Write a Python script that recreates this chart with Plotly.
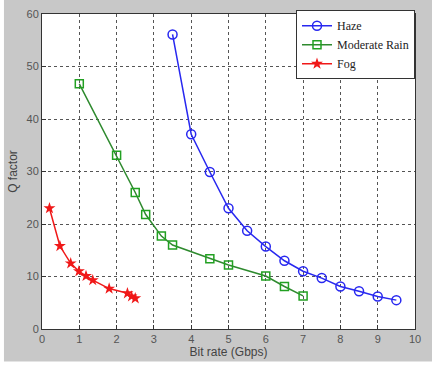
import plotly.graph_objects as go

haze_x = [3.5, 4.0, 4.5, 5.0, 5.5, 6.0, 6.5, 7.0, 7.5, 8.0, 8.5, 9.0, 9.5]
haze_y = [56.1, 37.1, 29.9, 23.0, 18.7, 15.7, 13.0, 11.0, 9.7, 8.1, 7.2, 6.2, 5.5]

rain_x = [1.0, 2.0, 2.5, 2.78, 3.2, 3.5, 4.5, 5.0, 6.0, 6.5, 7.0]
rain_y = [46.7, 33.1, 26.0, 21.8, 17.7, 16.0, 13.4, 12.2, 10.1, 8.1, 6.3]

fog_x = [0.2, 0.48, 0.77, 0.99, 1.18, 1.36, 1.8, 2.29, 2.4, 2.5]
fog_y = [23.0, 15.8, 12.5, 11.0, 10.1, 9.3, 7.7, 6.8, 6.2, 5.85]

x_ticks = [0, 1, 2, 3, 4, 5, 6, 7, 8, 9, 10]
y_ticks = [0, 10, 20, 30, 40, 50, 60]

fig = go.Figure()
fig.add_trace(go.Scatter(x=haze_x, y=haze_y, name="Haze", mode="lines+markers",
                         line=dict(color="#2828f0", width=1.5),
                         marker=dict(symbol="circle-open", size=9, color="#2828f0", line=dict(width=1.5))))
fig.add_trace(go.Scatter(x=rain_x, y=rain_y, name="Moderate Rain", mode="lines+markers",
                         line=dict(color="#2e8a2e", width=1.5),
                         marker=dict(symbol="square-open", size=8, color="#22a022", line=dict(width=1.5))))
fig.add_trace(go.Scatter(x=fog_x, y=fog_y, name="Fog", mode="lines+markers",
                         line=dict(color="#f01818", width=1.5),
                         marker=dict(symbol="star", size=9, color="#f01818")))

grid = dict(showgrid=True, gridcolor="#555555", griddash="dot", gridwidth=1)
fig.update_xaxes(range=[0, 10], tickvals=x_ticks, **grid,
                 showline=True, linecolor="#333333", linewidth=1, mirror=True,
                 ticks="inside", ticklen=4, tickcolor="#333333", zeroline=False,
                 tickfont=dict(family="Liberation Sans, Arial", size=11, color="#555555"),
                 title=dict(text="Bit rate (Gbps)", standoff=2,
                            font=dict(family="Liberation Sans, Arial", size=12, color="#444444")))
fig.update_yaxes(range=[0, 60], tickvals=y_ticks, **grid,
                 showline=True, linecolor="#333333", linewidth=1, mirror=True,
                 ticks="inside", ticklen=4, tickcolor="#333333", zeroline=False,
                 tickfont=dict(family="Liberation Sans, Arial", size=11, color="#555555"),
                 title=dict(text="Q factor", standoff=6,
                            font=dict(family="Liberation Sans, Arial", size=12, color="#444444")))

# white strips outside gray figure frame
fig.add_shape(type="rect", xref="paper", yref="paper", x0=-0.2, x1=-0.102, y0=-0.2, y1=1.1,
              fillcolor="white", line=dict(width=0), layer="below")
fig.add_shape(type="rect", xref="paper", yref="paper", x0=-0.2, x1=1.2, y0=-0.2, y1=-0.103,
              fillcolor="white", line=dict(width=0), layer="below")

fig.update_layout(
    width=432, height=366,
    margin=dict(l=42, r=17, t=8, b=37),
    paper_bgcolor="#c8c8c8", plot_bgcolor="white",
    legend=dict(x=1, y=1.012, xanchor="right", yanchor="top",
                bgcolor="white", bordercolor="#333333", borderwidth=1,
                font=dict(family="Liberation Serif, Times New Roman", size=12, color="#222222"),
                tracegroupgap=0, itemwidth=30),
    showlegend=True,
)

fig.write_html("out.html")
